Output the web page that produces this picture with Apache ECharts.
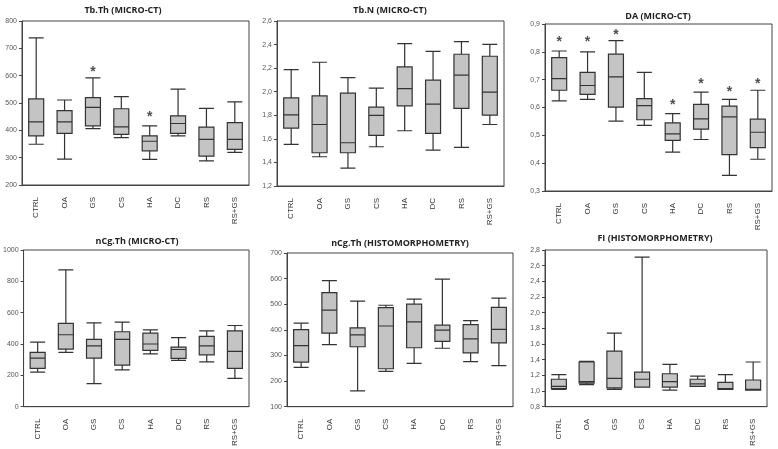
<!DOCTYPE html>
<html><head><meta charset="utf-8">
<script src="https://cdn.jsdelivr.net/npm/echarts@6/dist/echarts.min.js"></script>
<style>html,body{margin:0;padding:0;background:#fff}#c{width:778px;height:449px}</style>
</head><body><div id="c"></div>
<script>
const categories = ['CTRL','OA','GS','CS','HA','DC','RS','RS+GS'];
// [min, Q1, median, Q3, max]
const tbThBoxes = [[349,380,431,515,738],[295,389,431,472,511],[406,416,484,520,592],[373,385,413,479,523],[294,325,360,380,416],[380,389,425,453,551],[288,306,367,412,480],[319,330,367,428,504]];
const tbThStars = [null,null,626,null,462,null,null,null];
const tbNBoxes = [[1.553,1.691,1.804,1.948,2.188],[1.448,1.482,1.722,1.965,2.25],[1.352,1.482,1.567,1.988,2.12],[1.533,1.629,1.8,1.869,2.03],[1.669,1.88,2.027,2.21,2.408],[1.505,1.646,1.894,2.098,2.343],[1.528,1.858,2.14,2.318,2.425],[1.722,1.801,1.996,2.301,2.402]];
const daBoxes = [[0.624,0.662,0.704,0.779,0.803],[0.629,0.647,0.679,0.726,0.80],[0.551,0.601,0.71,0.792,0.84],[0.536,0.556,0.607,0.632,0.726],[0.44,0.482,0.505,0.545,0.578],[0.485,0.522,0.559,0.611,0.655],[0.356,0.431,0.566,0.605,0.629],[0.414,0.456,0.511,0.558,0.662]];
const daStars = [0.848,0.848,0.876,null,0.623,0.70,0.668,0.70];
const nCgCtBoxes = [[220,245,310,347,412],[347,367,459,531,873],[147,310,388,429,535],[235,265,429,478,539],[337,359,400,469,490],[295,308,365,380,441],[286,331,388,449,484],[180,245,353,484,518]];
const nCgHistBoxes = [[253,274,338,401,426],[342,387,477,545,592],[162,334,380,408,512],[238,248,415,487,496],[269,330,431,500,520],[328,355,399,418,598],[276,310,365,420,436],[260,349,402,488,524]];
const fiBoxes = [[1.02,1.03,1.06,1.15,1.21],[1.08,1.10,1.12,1.37,1.38],[1.02,1.04,1.16,1.51,1.74],[1.05,1.05,1.15,1.24,2.71],[1.01,1.05,1.12,1.22,1.34],[1.06,1.06,1.09,1.15,1.19],[1.02,1.02,1.03,1.11,1.21],[1.01,1.01,1.02,1.14,1.37]];

const panelTitles = ['Tb.Th (MICRO-CT)','Tb.N (MICRO-CT)','DA (MICRO-CT)','nCg.Th (MICRO-CT)','nCg.Th (HISTOMORPHOMETRY)','FI (HISTOMORPHOMETRY)'];
const yMins = [200,1.2,0.3,0,100,0.8];
const yMaxs = [800,2.6,0.9,1000,700,2.8];
const yIntervals = [100,0.2,0.1,200,100,0.2];
const yDecimals = [0,1,1,0,0,1];

const panels = [
  {boxes: tbThBoxes, stars: tbThStars},
  {boxes: tbNBoxes, stars: null},
  {boxes: daBoxes, stars: daStars},
  {boxes: nCgCtBoxes, stars: null},
  {boxes: nCgHistBoxes, stars: null},
  {boxes: fiBoxes, stars: null}
];

const layout = [
  {left:22, top:21, width:227, height:164, tx:118, ty:1},
  {left:277, top:21, width:227, height:165, tx:385, ty:1},
  {left:545, top:24, width:227, height:167, tx:653, ty:7},
  {left:22, top:250, width:227, height:163, tx:132, ty:232},
  {left:287, top:253, width:226, height:162, tx:395, ty:234},
  {left:545, top:250, width:222, height:167, tx:650, ty:229}
];

const chart = echarts.init(document.getElementById('c'));
const grids=[], xAxes=[], yAxes=[], series=[], titles=[];
panels.forEach((p,i)=>{
  const L = layout[i];
  grids.push({left:L.left, top:L.top, width:L.width, height:L.height, show:true, borderColor:'#444', borderWidth:1, backgroundColor:'transparent'});
  titles.push({text: panelTitles[i], left: L.tx, top: L.ty, textAlign:'center',
    textStyle:{fontFamily:'Open Sans', fontWeight:'bold', fontSize:9, color:'#222'}});
  xAxes.push({type:'category', gridIndex:i, data:categories, boundaryGap:true,
    axisLine:{show:true, lineStyle:{color:'#444'}}, axisTick:{show:false},
    axisLabel:{rotate:90, fontSize:8, color:'#333', fontFamily:'Liberation Sans', margin:12}});
  const dec = yDecimals[i];
  yAxes.push({type:'value', gridIndex:i, min:yMins[i], max:yMaxs[i], interval:yIntervals[i],
    splitLine:{show:false}, axisLine:{show:true, lineStyle:{color:'#444'}},
    axisTick:{show:true, length:3, lineStyle:{color:'#444'}},
    axisLabel:{fontSize:7, color:'#555', fontFamily:'Liberation Sans', margin:5,
      formatter: v => v.toFixed(dec).replace('.', ',')}});
  series.push({type:'boxplot', xAxisIndex:i, yAxisIndex:i, data:p.boxes, boxWidth:[15,15],
    itemStyle:{color:'#c4c4c4', borderColor:'#333', borderWidth:1.2}, silent:true});
  if (p.stars) {
    series.push({type:'scatter', xAxisIndex:i, yAxisIndex:i,
      data: p.stars.map((v,k)=> v==null ? null : [k, v]).filter(d=>d),
      symbolSize:1, itemStyle:{color:'rgba(0,0,0,0)'}, silent:true,
      label:{show:true, position:'inside', formatter:'*', fontSize:14, fontWeight:'bold', color:'#222', offset:[0,4]}});
  }
});
chart.setOption({animation:false, backgroundColor:'#fff', title:titles, grid:grids, xAxis:xAxes, yAxis:yAxes, series:series});
</script></body></html>
